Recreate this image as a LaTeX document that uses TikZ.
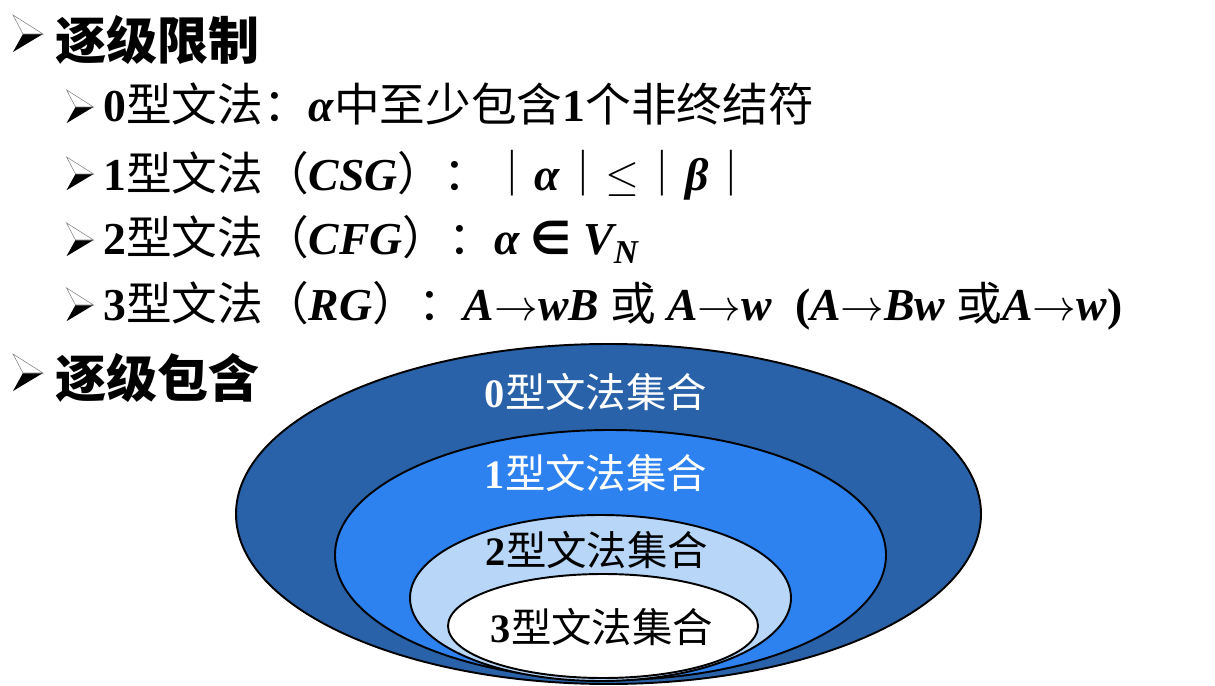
\documentclass[tikz,border=0pt]{standalone}
\usepackage{fontspec}
\setmainfont{Liberation Serif}
\newfontfamily\cjk{Noto Sans CJK SC}
\newfontfamily\symfont{DejaVu Sans}
\newcommand{\zh}[1]{{\cjk\mdseries\upshape #1}}
\newcommand{\vb}[1]{{\bfseries\itshape #1}}
\newcommand{\ra}{\ensuremath{\rightarrow}}
\definecolor{setzero}{HTML}{2962A8}
\definecolor{setone}{HTML}{2E82F0}
\definecolor{settwo}{HTML}{B8D6F8}

\begin{document}
\begin{tikzpicture}[x=1cm,y=1cm,
  setline/.style={draw=black,line width=1.1pt},
  heading/.style={font=\cjk\bfseries\fontsize{29}{34}\selectfont,anchor=base west,inner sep=0pt},
  item/.style={font=\bfseries\fontsize{26}{31}\selectfont,anchor=base west,inner sep=0pt},
  setlabel/.style={font=\bfseries\fontsize{23}{28}\selectfont,inner sep=0pt},
  bullethead/.pic={
    \fill[black] (-.1,0)--(.3,0)--(-.3,-.36)--cycle;
    \filldraw[fill=white,draw=gray,line width=.3pt] (-.3,.38)--(.3,0)--(-.1,0)--cycle;}]
\useasboundingbox (0,0) rectangle (24.3,13.7);
\fill[white] (0,0) rectangle (24.3,13.7);

% STEPWISE RESTRICTIONS
\pic at (.56,13.02) {bullethead};
\node[heading] (limits) at (1.1,12.51) {逐级限制};
\pic[scale=.9] at (1.6,11.56) {bullethead};
\node[item] (typezero) at (2.06,11.26)
  {0\zh{型文法：}\vb{α}\zh{中至少包含}1\zh{个非终结符}};
\pic[scale=.9] at (1.6,10.22) {bullethead};
\node[item] (typeone) at (2.06,9.9)
  {1\zh{型文法（}\vb{CSG}\zh{）：｜}\vb{α}\zh{｜}$\leq$\zh{｜}\vb{β}\zh{｜}};
\pic[scale=.9] at (1.6,8.9) {bullethead};
\node[item] (typetwo) at (2.06,8.6)
  {2\zh{型文法（}\vb{CFG}\zh{）：}\vb{α} {\symfont ∈} \vb{V\raisebox{-.4ex}{\fontsize{19}{19}\selectfont N}}};
\pic[scale=.9] at (1.6,7.6) {bullethead};
\node[item] (typethree) at (2.06,7.3)
  {3\zh{型文法（}\vb{RG}\zh{）：}\vb{A\ra wB} \zh{或} \vb{A\ra w}\enspace(\vb{A\ra Bw} \zh{或}\vb{A\ra w})};

% STEPWISE INCLUSION
\pic at (.56,6.24) {bullethead};
\node[heading] (inclusion) at (1.1,5.75) {逐级包含};

\draw[setline,fill=setzero] (12.17,3.42) ellipse [x radius=7.45,y radius=3.40];
\draw[setline,fill=setone] (12.21,2.60) ellipse [x radius=5.51,y radius=2.50];
\draw[setline,fill=settwo] (12.01,1.74) ellipse [x radius=3.81,y radius=1.66];
\draw[setline,fill=white] (12.06,1.18) ellipse [x radius=3.10,y radius=1.04];
\node[setlabel,text=white] (zerolabel) at (11.92,5.86) {0\zh{型文法集合}};
\node[setlabel,text=white] (onelabel) at (11.92,4.24) {1\zh{型文法集合}};
\node[setlabel] (twolabel) at (11.94,2.70) {2\zh{型文法集合}};
\node[setlabel] (threelabel) at (12.04,1.16) {3\zh{型文法集合}};
\end{tikzpicture}
\end{document}
